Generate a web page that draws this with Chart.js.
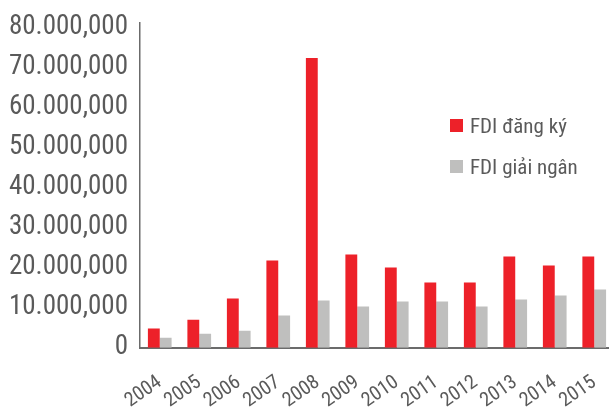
<!DOCTYPE html>
<html>
<head>
<meta charset="utf-8">
<script src="https://cdn.jsdelivr.net/npm/chart.js@4"></script>
<style>
  html, body { margin: 0; padding: 0; background: #fff; overflow: hidden; }
  #wrap { position: relative; width: 623px; height: 428px; }
  #legend { position: absolute; left: 450px; top: 105px; font-family: 'Roboto Condensed', sans-serif; font-size: 21px; color: #5a5a5a; }
  #legend div { display: flex; align-items: center; height: 41px; }
  #legend span.box { width: 13px; height: 13px; margin-right: 7px; display: inline-block; }
</style>
</head>
<body>
<div id="wrap">
  <canvas id="chart" width="623" height="428"></canvas>
  <div id="legend"></div>
</div>
<script>
'use strict';

const YEARS = ['2004', '2005', '2006', '2007', '2008', '2009', '2010', '2011', '2012', '2013', '2014', '2015'];
const FDI_REGISTERED = [4800000, 7000000, 12250000, 21750000, 72250000, 23250000, 20000000, 16250000, 16250000, 22750000, 20500000, 22750000];
const FDI_DISBURSED  = [2500000, 3500000, 4250000, 8000000, 11750000, 10250000, 11500000, 11500000, 10250000, 12000000, 13000000, 14500000];
const SERIES_LABELS = ['FDI đăng ký', 'FDI giải ngân'];
const SERIES_COLORS = ['#ed2129', '#bfbfbe'];
const Y_TICKS = [0, 10000000, 20000000, 30000000, 40000000, 50000000, 60000000, 70000000, 80000000];
const Y_TICK_LABELS = ['0', '10.000,000', '20.000,000', '30.000,000', '40.000,000', '50.000,000', '60.000,000', '70.000,000', '80.000,000'];

const FONT = "'Roboto Condensed', sans-serif";

const chart = new Chart(document.getElementById('chart'), {
  type: 'bar',
  data: {
    labels: YEARS,
    datasets: [
      { label: SERIES_LABELS[0], data: FDI_REGISTERED, backgroundColor: SERIES_COLORS[0] },
      { label: SERIES_LABELS[1], data: FDI_DISBURSED,  backgroundColor: SERIES_COLORS[1] },
    ]
  },
  options: {
    responsive: false,
    animation: false,
    layout: { padding: { top: 23, right: 0, bottom: 0, left: 0 } },
    datasets: { bar: { categoryPercentage: 0.6, barPercentage: 1.0 } },
    plugins: { legend: { display: false }, tooltip: { enabled: false } },
    scales: {
      x: {
        grid: { display: false },
        border: { display: true, color: '#6b6b6b', width: 2 },
        ticks: {
          autoSkip: false,
          color: '#5a5a5a',
          font: { family: FONT, size: 20 },
          minRotation: 35, maxRotation: 35,
          padding: 15,
        }
      },
      y: {
        min: 0,
        max: 81000000,
        grid: { display: false },
        border: { display: true, color: '#6b6b6b', width: 1.5 },
        // only the round ticks are labelled; the axis itself runs a bit higher
        afterBuildTicks(scale) {
          scale.ticks = Y_TICKS.map(v => ({ value: v }));
        },
        afterFit(scale) { scale.width = 140; },
        ticks: {
          autoSkip: false,
          color: '#5a5a5a',
          font: { family: FONT, size: 27 },
          padding: 4,
          callback: v => Y_TICK_LABELS[Y_TICKS.indexOf(v)],
        }
      }
    }
  }
});

// legend placed inside the plot, built from the datasets
const legend = document.getElementById('legend');
chart.data.datasets.forEach(ds => {
  const row = document.createElement('div');
  row.innerHTML = `<span class="box" style="background:${ds.backgroundColor}"></span>${ds.label}`;
  legend.appendChild(row);
});
</script>
</body>
</html>
